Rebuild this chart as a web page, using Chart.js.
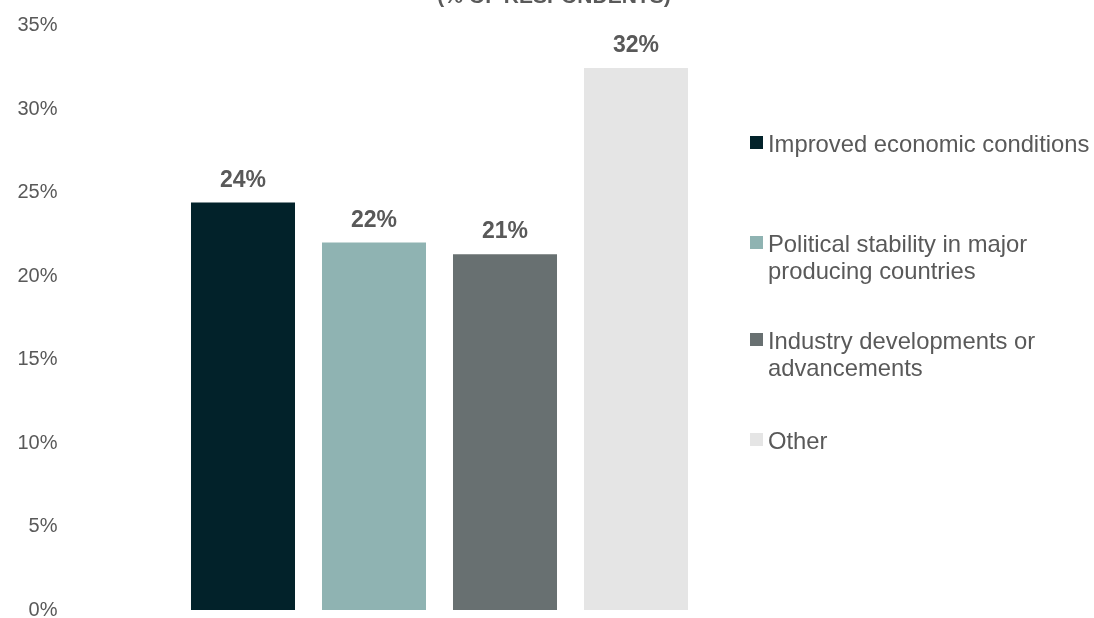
<!DOCTYPE html>
<html>
<head>
<meta charset="utf-8">
<script src="https://cdn.jsdelivr.net/npm/chart.js@4/dist/chart.umd.min.js"></script>
<style>
    html, body {
        margin: 0;
        padding: 0;
        background: #ffffff;
        overflow: hidden;
    }
    #wrap {
        position: relative;
        width: 1094px;
        height: 618px;
    }
    #chartBox {
        position: absolute;
        left: 0;
        top: 0;
        width: 1094px;
        height: 618px;
    }
    #title {
        position: absolute;
        left: 354px;
        width: 400px;
        top: -16px;
        text-align: center;
        font: bold 21px 'Liberation Sans', Arial, sans-serif;
        line-height: 24px;
        color: #595959;
        white-space: nowrap;
    }
    .legend-item {
        position: absolute;
        left: 750px;
        display: flex;
        align-items: flex-start;
        font: 23.8px 'Liberation Sans', Arial, sans-serif;
        line-height: 27px;
        color: #595959;
    }
    .legend-item .box {
        width: 13px;
        height: 13px;
        margin-top: 6px;
        margin-right: 5px;
        flex: none;
    }
    .legend-item .text {
        width: 335px;
    }
    .legend-item:nth-child(1) { top: 130px; }
    .legend-item:nth-child(2) { top: 230px; }
    .legend-item:nth-child(3) { top: 327px; }
    .legend-item:nth-child(4) { top: 427px; }
</style>
</head>
<body>
<div id="wrap">
    <div id="chartBox"><canvas id="chart"></canvas></div>
    <div id="title">(% OF RESPONDENTS)</div>
    <div id="legend"></div>
</div>
<script>
// Survey answers and their share of respondents
const categories = [
    'Improved economic conditions',
    'Political stability in major producing countries',
    'Industry developments or advancements',
    'Other'
];
const shares = [24.4, 22.0, 21.3, 32.45];
const barColors = ['#02222a', '#8fb3b2', '#687071', '#e5e5e5'];
const yTicks = [0, 5, 10, 15, 20, 25, 30, 35];

const FONT = "'Liberation Sans', Arial, sans-serif";
const TEXT_GREY = '#595959';

// Percent labels above each bar
const valueLabels = {
    id: 'valueLabels',
    afterDatasetsDraw(chart) {
        const ctx = chart.ctx;
        const meta = chart.getDatasetMeta(0);
        ctx.save();
        ctx.font = 'bold 23px ' + FONT;
        ctx.fillStyle = TEXT_GREY;
        ctx.textAlign = 'center';
        ctx.textBaseline = 'alphabetic';
        meta.data.forEach(function(bar, i) {
            const value = chart.data.datasets[0].data[i];
            ctx.fillText(Math.round(value) + '%', bar.x, bar.y - 16);
        });
        ctx.restore();
    }
};

function buildLegend() {
    const legend = document.getElementById('legend');
    categories.forEach(function(label, i) {
        const item = document.createElement('div');
        item.className = 'legend-item';
        const box = document.createElement('span');
        box.className = 'box';
        box.style.background = barColors[i];
        const text = document.createElement('span');
        text.className = 'text';
        text.textContent = label;
        item.appendChild(box);
        item.appendChild(text);
        legend.appendChild(item);
    });
}

function initChart() {
    const ctx = document.getElementById('chart');

    new Chart(ctx, {
        type: 'bar',
        data: {
            labels: categories,
            datasets: [{
                data: shares,
                backgroundColor: barColors,
                borderWidth: 0,
                barPercentage: 0.794,
                categoryPercentage: 1.0
            }]
        },
        options: {
            responsive: true,
            maintainAspectRatio: false,
            animation: false,
            events: [],
            layout: {
                padding: { top: 25.5, bottom: 8, left: 0, right: 392.5 }
            },
            plugins: {
                legend: { display: false },
                title: { display: false },
                tooltip: { enabled: false }
            },
            scales: {
                x: {
                    display: false
                },
                y: {
                    min: 0,
                    max: 35,
                    afterFit: function(scale) {
                        // wide gap between labels and bars, without the
                        // tick padding eating vertical space
                        scale.width = 177.5;
                        scale.paddingTop = 0;
                        scale.paddingBottom = 0;
                    },
                    afterBuildTicks: function(scale) {
                        scale.ticks = yTicks.map(function(v) { return { value: v }; });
                    },
                    grid: { display: false, drawTicks: false },
                    border: { display: false },
                    ticks: {
                        padding: 120,
                        color: TEXT_GREY,
                        font: { family: FONT, size: 20 },
                        callback: function(value) {
                            return value + '%';
                        }
                    }
                }
            }
        },
        plugins: [valueLabels]
    });
}

document.addEventListener('DOMContentLoaded', function() {
    buildLegend();
    initChart();
});
</script>
</body>
</html>
